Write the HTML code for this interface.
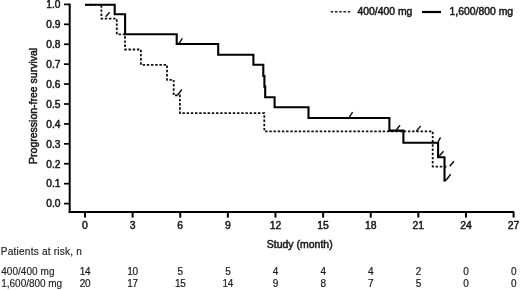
<!DOCTYPE html><html><head><meta charset="utf-8"><style>html,body{margin:0;padding:0;background:#fff;width:520px;height:290px;overflow:hidden}svg{display:block;will-change:transform}text{font-family:"Liberation Sans",sans-serif;fill:#1a1a1a;stroke:#1a1a1a;stroke-width:0.5px}text.t{stroke-width:0.15px;fill:#222;stroke:#222}text.n{stroke-width:0.2px;fill:#1a1a1a;stroke:#1a1a1a}</style></head><body>
<svg width="520" height="290" viewBox="0 0 520 290">
<path d="M69.7 3.6 V213.1" stroke="#000" stroke-width="2" fill="none"/>
<path d="M68.7 212.1 H514.2" stroke="#000" stroke-width="2" fill="none"/>
<path d="M64 4.40 H69.7" stroke="#000" stroke-width="1.7"/>
<text x="60.5" y="8.15" font-size="10.2" text-anchor="end">1.0</text>
<path d="M64 24.32 H69.7" stroke="#000" stroke-width="1.7"/>
<text x="60.5" y="28.07" font-size="10.2" text-anchor="end">0.9</text>
<path d="M64 44.24 H69.7" stroke="#000" stroke-width="1.7"/>
<text x="60.5" y="47.99" font-size="10.2" text-anchor="end">0.8</text>
<path d="M64 64.16 H69.7" stroke="#000" stroke-width="1.7"/>
<text x="60.5" y="67.91" font-size="10.2" text-anchor="end">0.7</text>
<path d="M64 84.08 H69.7" stroke="#000" stroke-width="1.7"/>
<text x="60.5" y="87.83" font-size="10.2" text-anchor="end">0.6</text>
<path d="M64 104.00 H69.7" stroke="#000" stroke-width="1.7"/>
<text x="60.5" y="107.75" font-size="10.2" text-anchor="end">0.5</text>
<path d="M64 123.92 H69.7" stroke="#000" stroke-width="1.7"/>
<text x="60.5" y="127.67" font-size="10.2" text-anchor="end">0.4</text>
<path d="M64 143.84 H69.7" stroke="#000" stroke-width="1.7"/>
<text x="60.5" y="147.59" font-size="10.2" text-anchor="end">0.3</text>
<path d="M64 163.76 H69.7" stroke="#000" stroke-width="1.7"/>
<text x="60.5" y="167.51" font-size="10.2" text-anchor="end">0.2</text>
<path d="M64 183.68 H69.7" stroke="#000" stroke-width="1.7"/>
<text x="60.5" y="187.43" font-size="10.2" text-anchor="end">0.1</text>
<path d="M64 203.60 H69.7" stroke="#000" stroke-width="1.7"/>
<text x="60.5" y="207.35" font-size="10.2" text-anchor="end">0.0</text>
<path d="M85.00 212.1 V217.6" stroke="#000" stroke-width="2"/>
<text x="85.00" y="228.6" font-size="10.4" text-anchor="middle">0</text>
<path d="M132.62 212.1 V217.6" stroke="#000" stroke-width="2"/>
<text x="132.62" y="228.6" font-size="10.4" text-anchor="middle">3</text>
<path d="M180.24 212.1 V217.6" stroke="#000" stroke-width="2"/>
<text x="180.24" y="228.6" font-size="10.4" text-anchor="middle">6</text>
<path d="M227.86 212.1 V217.6" stroke="#000" stroke-width="2"/>
<text x="227.86" y="228.6" font-size="10.4" text-anchor="middle">9</text>
<path d="M275.48 212.1 V217.6" stroke="#000" stroke-width="2"/>
<text x="275.48" y="228.6" font-size="10.4" text-anchor="middle">12</text>
<path d="M323.10 212.1 V217.6" stroke="#000" stroke-width="2"/>
<text x="323.10" y="228.6" font-size="10.4" text-anchor="middle">15</text>
<path d="M370.72 212.1 V217.6" stroke="#000" stroke-width="2"/>
<text x="370.72" y="228.6" font-size="10.4" text-anchor="middle">18</text>
<path d="M418.34 212.1 V217.6" stroke="#000" stroke-width="2"/>
<text x="418.34" y="228.6" font-size="10.4" text-anchor="middle">21</text>
<path d="M465.96 212.1 V217.6" stroke="#000" stroke-width="2"/>
<text x="465.96" y="228.6" font-size="10.4" text-anchor="middle">24</text>
<path d="M513.58 212.1 V217.6" stroke="#000" stroke-width="2"/>
<text x="513.58" y="228.6" font-size="10.4" text-anchor="middle">27</text>
<text x="299.7" y="247.7" font-size="10.5" text-anchor="middle">Study (month)</text>
<text transform="translate(36.8 105.9) rotate(-90)" x="0" y="0" font-size="10.5" text-anchor="middle">Progression-free survival</text>
<path d="M330.7 11.75 H350.6" stroke="#222" stroke-width="1.6" stroke-dasharray="2.5 1.75"/>
<text x="357.5" y="14.8" font-size="10.4">400/400 mg</text>
<path d="M422 12.0 H441" stroke="#000" stroke-width="2.2"/>
<text x="449.6" y="14.8" font-size="10.4">1,600/800 mg</text>
<path d="M85 4.8 H101.4 V18.6 H116.8 V34.3 H125 V49.5 H140.9 V64.8 H167 V79.9 H173.7 V95.4 H179.9 V113.2 H264.3 V131.3 H432.7 V166.6 H447.8" stroke="#111" stroke-width="1.8" stroke-dasharray="2.45 1.75" fill="none"/>
<path d="M85 4.8 H114.7 V14.3 H125.1 V34.2 H176.7 V44 H218.2 V54.7 H253.4 V64.8 H263.3 V76 H264.4 V86.6 H265.2 V97.3 H274.6 V107.3 H308.5 V118 H389.4 V130.6 H403.4 V142.8 H438.1 V157.3 H444.5 V180.5 H446" stroke="#000" stroke-width="2.1" fill="none" stroke-linejoin="miter"/>
<path d="M105.6 16.8 L109.7 12.3" stroke="#111" stroke-width="1.45"/>
<path d="M177.4 95.2 L181.8 89.5" stroke="#111" stroke-width="1.45"/>
<path d="M416.5 131.0 L420.7 125.9" stroke="#111" stroke-width="1.45"/>
<path d="M449.7 166.2 L454.0 161.2" stroke="#111" stroke-width="1.45"/>
<path d="M179.0 43.4 L182.4 38.3" stroke="#111" stroke-width="1.45"/>
<path d="M349.2 117.3 L352.6 112.2" stroke="#111" stroke-width="1.45"/>
<path d="M395.9 130.5 L400.0 125.3" stroke="#111" stroke-width="1.45"/>
<path d="M437.8 142.6 L440.5 137.4" stroke="#111" stroke-width="1.45"/>
<path d="M439.1 156.2 L443.5 151.2" stroke="#111" stroke-width="1.45"/>
<path d="M446.0 180.3 L450.7 174.3" stroke="#111" stroke-width="1.45"/>
<text class="t" x="0.75" y="254.5" font-size="10.1" letter-spacing="0.21">Patients at risk, n</text>
<text class="t" x="1.2" y="274.5" font-size="10" letter-spacing="0.05">400/400 mg</text>
<text class="t" x="1.3" y="286.5" font-size="10" letter-spacing="-0.03">1,600/800 mg</text>
<text class="n" x="85.00" y="274.5" font-size="10" letter-spacing="-0.3" text-anchor="middle">14</text>
<text class="n" x="85.00" y="286.5" font-size="10" letter-spacing="-0.3" text-anchor="middle">20</text>
<text class="n" x="132.62" y="274.5" font-size="10" letter-spacing="-0.3" text-anchor="middle">10</text>
<text class="n" x="132.62" y="286.5" font-size="10" letter-spacing="-0.3" text-anchor="middle">17</text>
<text class="n" x="180.24" y="274.5" font-size="10" letter-spacing="-0.3" text-anchor="middle">5</text>
<text class="n" x="180.24" y="286.5" font-size="10" letter-spacing="-0.3" text-anchor="middle">15</text>
<text class="n" x="227.86" y="274.5" font-size="10" letter-spacing="-0.3" text-anchor="middle">5</text>
<text class="n" x="227.86" y="286.5" font-size="10" letter-spacing="-0.3" text-anchor="middle">14</text>
<text class="n" x="275.48" y="274.5" font-size="10" letter-spacing="-0.3" text-anchor="middle">4</text>
<text class="n" x="275.48" y="286.5" font-size="10" letter-spacing="-0.3" text-anchor="middle">9</text>
<text class="n" x="323.10" y="274.5" font-size="10" letter-spacing="-0.3" text-anchor="middle">4</text>
<text class="n" x="323.10" y="286.5" font-size="10" letter-spacing="-0.3" text-anchor="middle">8</text>
<text class="n" x="370.72" y="274.5" font-size="10" letter-spacing="-0.3" text-anchor="middle">4</text>
<text class="n" x="370.72" y="286.5" font-size="10" letter-spacing="-0.3" text-anchor="middle">7</text>
<text class="n" x="418.34" y="274.5" font-size="10" letter-spacing="-0.3" text-anchor="middle">2</text>
<text class="n" x="418.34" y="286.5" font-size="10" letter-spacing="-0.3" text-anchor="middle">5</text>
<text class="n" x="465.96" y="274.5" font-size="10" letter-spacing="-0.3" text-anchor="middle">0</text>
<text class="n" x="465.96" y="286.5" font-size="10" letter-spacing="-0.3" text-anchor="middle">0</text>
<text class="n" x="513.58" y="274.5" font-size="10" letter-spacing="-0.3" text-anchor="middle">0</text>
<text class="n" x="513.58" y="286.5" font-size="10" letter-spacing="-0.3" text-anchor="middle">0</text>
</svg></body></html>
